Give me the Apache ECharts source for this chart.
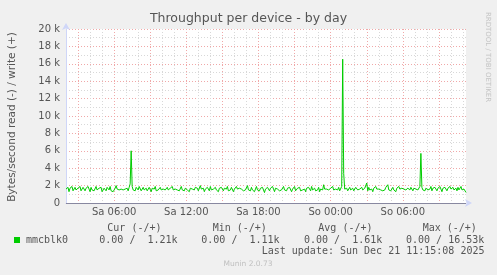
<!DOCTYPE html>
<html><head><meta charset="utf-8">
<script src="https://cdn.jsdelivr.net/npm/echarts@6/dist/echarts.min.js"></script>
<style>html,body{margin:0;padding:0;background:#F0F0F0}#c{width:497px;height:275px}</style>
</head><body><div id="c"></div>
<script>
// Time: 5-minute samples starting Sa 02:00 (minutes since Sa 00:00)
const startMinute = 120;
const stepMinutes = 5;
const dayNames = ['Sa', 'So'];
const tickLabels = ['Sa 06:00', 'Sa 12:00', 'Sa 18:00', 'So 00:00', 'So 06:00'];
const yTicks = [0, 2, 4, 6, 8, 10, 12, 14, 16, 18, 20];
// write (+) throughput in k bytes/second
const writeValues = [
1.6,1.4,1.8,1.3,1.7,1.5,1.9,1.4,1.6,1.8,1.5,1.3,1.7,1.6,1.9,1.4,1.5,1.8,1.6,1.4,
1.7,1.5,1.9,1.6,1.3,1.8,1.5,1.7,1.4,1.6,1.9,1.5,1.4,1.7,1.6,1.8,1.3,1.5,1.7,1.6,
1.4,1.8,1.6,1.5,1.9,1.4,1.6,1.3,1.5,1.7,2.0,1.6,1.8,1.5,1.4,1.6,1.7,1.5,1.3,1.6,
1.5,1.7,1.4,1.8,2.2,6.0,1.9,1.5,1.6,1.4,1.8,1.6,1.5,1.9,1.7,1.4,1.6,1.8,1.5,1.6,
1.7,1.4,1.5,1.8,1.6,1.3,1.7,1.5,1.6,1.9,1.4,1.6,1.5,1.7,1.8,1.5,1.4,1.6,1.7,1.5,
1.6,1.8,1.5,1.4,1.7,1.6,1.9,1.5,1.3,1.6,1.8,1.5,1.7,1.4,1.6,1.9,1.5,1.6,1.4,1.7,
1.8,1.5,1.6,1.3,1.7,1.9,1.6,1.4,1.5,1.8,1.6,1.7,1.4,1.5,2.0,1.6,1.5,1.7,1.3,1.6,
1.5,1.8,1.6,1.4,1.9,1.5,1.7,1.6,1.4,1.8,1.5,1.6,1.3,1.7,1.5,1.8,1.6,1.4,1.7,1.5,
1.6,1.9,1.4,1.6,1.5,1.8,1.7,1.3,1.6,1.5,1.9,1.6,1.4,1.7,1.5,1.6,1.8,1.4,1.6,1.5,
1.7,2.0,1.5,1.6,1.4,1.8,1.5,1.7,1.3,1.6,1.9,1.5,1.6,1.4,1.7,1.5,1.8,1.6,1.2,1.6,
1.5,1.8,1.6,1.4,1.7,1.5,1.9,1.6,1.3,1.7,1.5,1.6,1.8,1.4,1.6,1.5,1.7,1.9,1.5,1.6,
1.4,1.7,1.5,1.8,1.6,1.3,1.6,1.5,1.9,1.4,1.6,1.7,1.5,1.8,1.4,1.6,1.5,1.7,1.6,1.3,
1.7,1.5,1.8,1.6,1.4,1.9,1.5,1.6,1.7,1.4,1.6,1.5,1.8,1.3,1.6,1.7,1.5,2.1,1.6,1.4,
1.6,1.8,1.5,1.4,1.7,1.6,1.9,1.5,1.3,1.6,1.7,1.5,1.8,1.4,1.6,1.9,16.53,3.4,1.6,1.5,
1.7,1.4,1.6,1.8,1.5,1.6,1.7,1.4,1.5,1.8,1.6,1.5,1.7,1.6,1.4,1.8,1.5,1.6,1.7,1.5,
2.3,1.4,1.8,1.5,1.7,1.6,1.3,1.7,1.5,1.9,1.6,1.4,1.6,1.8,1.5,1.7,1.4,1.6,1.5,1.8,
1.6,2.1,1.5,1.7,1.4,1.6,1.8,1.5,1.6,1.3,1.7,1.5,1.9,1.6,1.4,1.7,1.5,1.6,1.8,1.5,
1.4,1.7,1.6,1.5,1.8,1.6,1.4,1.7,1.5,1.6,1.8,1.5,1.6,1.9,5.7,1.8,1.5,1.6,1.4,1.7,
1.6,1.5,1.6,1.6,1.9,1.4,1.7,1.5,1.8,1.6,1.4,1.7,1.5,1.9,1.6,1.3,1.7,1.5,1.8,1.6,
1.4,1.7,1.5,1.9,1.6,1.4,1.8,1.5,1.6,1.7,1.4,1.8,1.5,1.6,1.9,1.5,1.7,1.6,1.4,1.21
];
const legendName = 'mmcblk0';
const legendHeaders = ['Cur (-/+)', 'Min (-/+)', 'Avg (-/+)', 'Max (-/+)'];
const legendValues = ['0.00 /  1.21k', '0.00 /  1.11k', '0.00 /  1.61k', '0.00 / 16.53k'];
const lastUpdate = 'Last update: Sun Dec 21 11:15:08 2025';

function pad(n){return (n<10?'0':'')+n;}
const minutes = writeValues.map((_, i) => startMinute + i * stepMinutes);
const categories = minutes.map(m => dayNames[Math.floor(m/1440)] + ' ' + pad(Math.floor((m%1440)/60)) + ':' + pad(m%60));

const chart = echarts.init(document.getElementById('c'), null, {renderer:'canvas'});
const mono = 'DejaVu Sans Mono';
const fontCol = '#555555';
chart.setOption({
  backgroundColor: '#F0F0F0',
  animation: false,
  grid: {left: 66, right: 31, top: 29, bottom: 72, show: true, backgroundColor: '#FFFFFF', borderWidth: 0},
  xAxis: [{
    type: 'category', data: categories, boundaryGap: false,
    axisLine: {show: true, lineStyle: {color: '#CFD6F8', width: 1}, symbol: ['none','arrow'], symbolSize: [6,7], symbolOffset: [0,6]},
    axisTick: {show: false},
    axisLabel: {
      interval: (i, v) => tickLabels.indexOf(v) >= 0,
      color: fontCol, fontFamily: 'DejaVu Sans', fontSize: 10, margin: 4
    },
    splitLine: {show: true, interval: (i) => minutes[i] % 180 === 0, lineStyle: {color: '#F0A8A8', type: [1,2], width: 1}}
  }, {
    type: 'category', data: categories, boundaryGap: false, position: 'bottom',
    axisLine: {show: false}, axisTick: {show: false}, axisLabel: {show: false},
    splitLine: {show: true, interval: (i) => minutes[i] % 60 === 0 && minutes[i] % 180 !== 0, lineStyle: {color: '#D8D8D8', type: [1,2], width: 1}}
  }],
  yAxis: {
    type: 'value', min: yTicks[0], max: yTicks[yTicks.length-1], interval: 2,
    axisLine: {show: true, lineStyle: {color: '#CFD6F8', width: 1}, symbol: ['none','arrow'], symbolSize: [6,7], symbolOffset: [0,6]},
    axisTick: {show: false},
    axisLabel: {formatter: v => v === 0 ? '0' : v + ' k', color: fontCol, fontFamily: 'DejaVu Sans', fontSize: 10, margin: 6},
    splitLine: {show: true, lineStyle: {color: '#F0A8A8', type: [1,2], width: 1}},
    minorTick: {show: false, splitNumber: 2},
    minorSplitLine: {show: true, lineStyle: {color: '#D8D8D8', type: [1,2], width: 1}}
  },
  series: [{
    type: 'line', data: writeValues, xAxisIndex: 0, showSymbol: false, symbol: 'none',
    lineStyle: {color: '#00CC00', width: 1}, itemStyle: {color: '#00CC00'},
    markLine: {silent: true, symbol: 'none', label: {show: false}, lineStyle: {color: '#8888A0', type: 'solid', width: 1}, data: [{yAxis: 0}]}
  }],
  graphic: [
    {type: 'text', x: 248.5, y: 18.5, style: {text: 'Throughput per device - by day', font: '12.5px "DejaVu Sans"', fill: fontCol, textAlign: 'center', textVerticalAlign: 'middle', verticalAlign: 'middle'}},
    {type: 'text', x: 12, y: 117, rotation: Math.PI/2, style: {text: 'Bytes/second read (-) / write (+)', font: '10.5px "DejaVu Sans"', fill: fontCol, textAlign: 'center', textVerticalAlign: 'middle', verticalAlign: 'middle'}},
    {type: 'text', x: 488, y: 57, rotation: -Math.PI/2, style: {text: 'RRDTOOL / TOBI OETIKER', font: '7px "DejaVu Sans"', fill: '#C4C4C4', textAlign: 'center', textVerticalAlign: 'middle', verticalAlign: 'middle'}},
    {type: 'rect', shape: {x: 14, y: 237, width: 6, height: 6}, style: {fill: '#00CC00'}},
    {type: 'text', x: 26, y: 240, style: {text: legendName, font: '10px "' + mono + '"', fill: fontCol, textVerticalAlign: 'middle', verticalAlign: 'middle'}},
    {type: 'text', x: 107.3, y: 228, style: {text: legendHeaders[0], font: '10px "' + mono + '"', fill: fontCol, textVerticalAlign: 'middle', verticalAlign: 'middle'}},
    {type: 'text', x: 212.7, y: 228, style: {text: legendHeaders[1], font: '10px "' + mono + '"', fill: fontCol, textVerticalAlign: 'middle', verticalAlign: 'middle'}},
    {type: 'text', x: 318.3, y: 228, style: {text: legendHeaders[2], font: '10px "' + mono + '"', fill: fontCol, textVerticalAlign: 'middle', verticalAlign: 'middle'}},
    {type: 'text', x: 422.7, y: 228, style: {text: legendHeaders[3], font: '10px "' + mono + '"', fill: fontCol, textVerticalAlign: 'middle', verticalAlign: 'middle'}},
    {type: 'text', x: 99.3, y: 240, style: {text: legendValues[0], font: '10px "' + mono + '"', fill: fontCol, textVerticalAlign: 'middle', verticalAlign: 'middle'}},
    {type: 'text', x: 201.3, y: 240, style: {text: legendValues[1], font: '10px "' + mono + '"', fill: fontCol, textVerticalAlign: 'middle', verticalAlign: 'middle'}},
    {type: 'text', x: 304, y: 240, style: {text: legendValues[2], font: '10px "' + mono + '"', fill: fontCol, textVerticalAlign: 'middle', verticalAlign: 'middle'}},
    {type: 'text', x: 406, y: 240, style: {text: legendValues[3], font: '10px "' + mono + '"', fill: fontCol, textVerticalAlign: 'middle', verticalAlign: 'middle'}},
    {type: 'text', x: 261.7, y: 251.5, style: {text: lastUpdate, font: '10px "' + mono + '"', fill: fontCol, textVerticalAlign: 'middle', verticalAlign: 'middle'}},
    {type: 'text', x: 248, y: 264.5, style: {text: 'Munin 2.0.73', font: '7.5px "DejaVu Sans"', fill: '#C0C0C0', textAlign: 'center', textVerticalAlign: 'middle', verticalAlign: 'middle'}}
  ]
});
</script></body></html>
